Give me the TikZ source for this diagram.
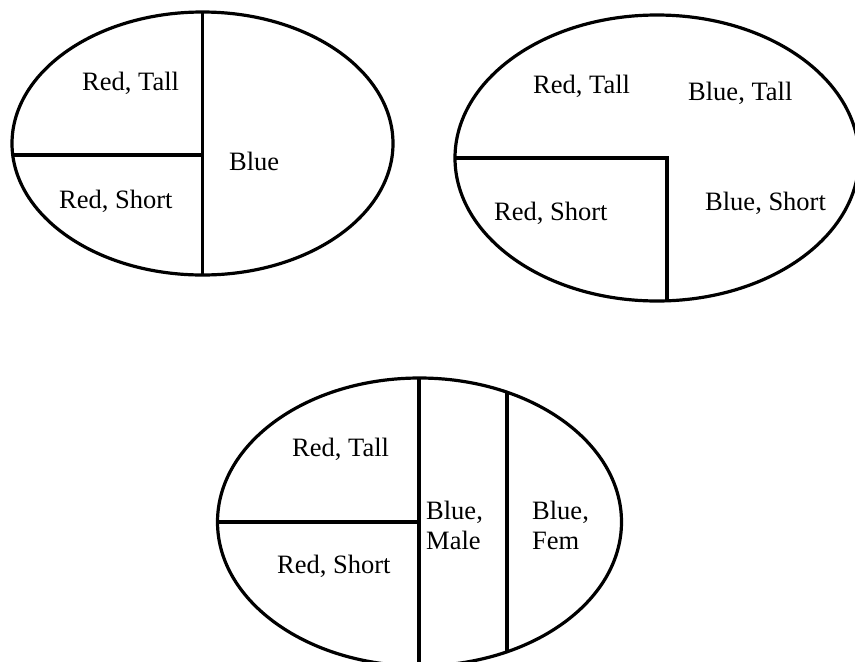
\documentclass[tikz,border=0pt]{standalone}
\usepackage{fontspec}
\setmainfont{Liberation Serif}
\usepackage{tikz}

\begin{document}
\begin{tikzpicture}[
    x=1pt,y=-1pt,
    part/.style={line width=3.2pt,black},
    lbl/.style={anchor=base west,inner sep=0pt,align=left,font=\fontsize{26.5}{30}\selectfont}
]
\clip (0,0) rectangle (855,662);
\fill[white] (0,0) rectangle (855,662);

% left oval: red split in tall and short, blue whole
\draw[part] (202.5,143.5) ellipse [x radius=190.5pt,y radius=131.5pt];
\draw[part] (202.5,12) -- (202.5,275);
\draw[part] (13,155) -- (202.5,155);
\node[lbl] (lt) at (82,90)  {Red, Tall};
\node[lbl] (ls) at (59,208) {Red, Short};
\node[lbl] (lb) at (229,170) {Blue};

% right oval: both colours split by height
\draw[part] (657,158) ellipse [x radius=202pt,y radius=143pt];
\draw[part] (455,158) -- (667,158) -- (667,301);
\node[lbl] (rrt) at (533,93)  {Red, Tall};
\node[lbl] (rbt) at (688,100) {Blue, Tall};
\node[lbl] (rrs) at (494,220) {Red, Short};
\node[lbl] (rbs) at (705,210) {Blue, Short};

% lower oval: blue split by sex (base anchor sits on the last line)
\draw[part] (419.5,522) ellipse [x radius=202pt,y radius=144pt];
\draw[part] (419,378) -- (419,666);
\draw[part] (217.5,522) -- (419,522);
\draw[part] (507,392) -- (507,652);
\node[lbl] (bt) at (292,456) {Red, Tall};
\node[lbl] (bs) at (277,573) {Red, Short};
\node[lbl] (bm) at (426,549) {Blue,\\Male};
\node[lbl] (bf) at (532,549) {Blue,\\Fem};
\end{tikzpicture}
\end{document}
